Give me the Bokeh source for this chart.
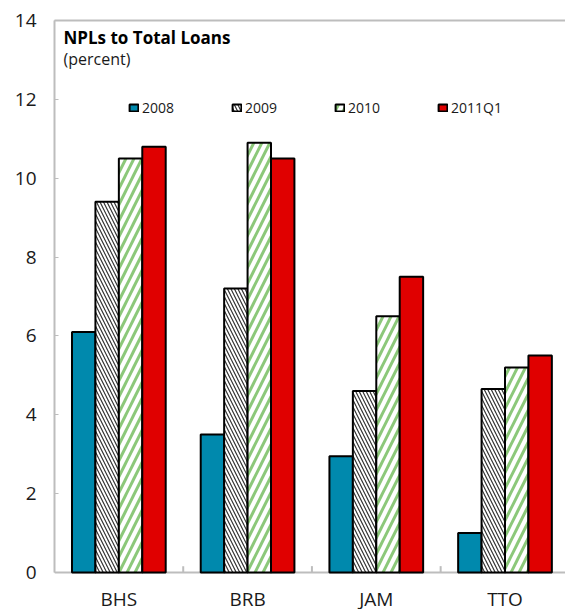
import numpy as np
from bokeh.plotting import figure
from bokeh.core.properties import value
from bokeh.models import (Range1d, FixedTicker, LinearAxis, Legend, LegendItem,
                          Label, LabelSet, Span, ColumnDataSource)
from bokeh.embed import file_html
from bokeh.resources import INLINE

# NPLs to total loans, percent
countries = ["BHS", "BRB", "JAM", "TTO"]
periods = ["2008", "2009", "2010", "2011Q1"]
npl_2008 = [6.1, 3.5, 2.95, 1.0]
npl_2009 = [9.4, 7.2, 4.6, 4.65]
npl_2010 = [10.5, 10.9, 6.5, 5.2]
npl_2011q1 = [10.8, 10.5, 7.5, 5.5]
y_ticks = [0, 2, 4, 6, 8, 10, 12, 14]

FONT = "Open Sans"
AXIS_GREY = "#bdbdbd"
TEXT = "#1a1a1a"

# the frame runs down to the page bottom so the country names sit inside it
p = figure(width=565, height=609, x_range=Range1d(0, 3.97),
           y_range=Range1d(-0.94, 14),
           toolbar_location=None, output_backend="svg",
           min_border_left=54, min_border_right=0, min_border_top=20,
           min_border_bottom=0)
p.outline_line_color = None
p.xgrid.visible = False
p.ygrid.visible = False
p.xaxis.visible = False

centers = [i + 0.5 for i in range(len(countries))]
bounds = [i for i in range(1, len(countries))]
bar_w = 0.182
offsets = [-1.5 * bar_w, -0.5 * bar_w, 0.5 * bar_w, 1.5 * bar_w]

styles = [
    dict(fill_color="#0089ad"),
    dict(fill_color="white", hatch_pattern="\\", hatch_color="#333333",
         hatch_scale=7, hatch_weight=1.2),
    dict(fill_color="white", hatch_pattern="/", hatch_color="#8cc87a",
         hatch_scale=16, hatch_weight=3),
    dict(fill_color="#e00000"),
]

renderers = []
for vals, off, st in zip([npl_2008, npl_2009, npl_2010, npl_2011q1], offsets, styles):
    src = ColumnDataSource(dict(x=[c + off for c in centers], top=vals))
    r = p.vbar(x="x", top="top", width=bar_w, source=src,
               line_color="black", line_width=2, **st)
    renderers.append(r)

# category axis: base line at zero, short marks between groups, names below
p.add_layout(Span(location=0, dimension="width", line_color=AXIS_GREY,
                  line_width=2, level="underlay"))
p.segment(x0=bounds, y0=[0] * len(bounds), x1=bounds, y1=[0.16] * len(bounds),
          line_color=AXIS_GREY, line_width=2)
names = ColumnDataSource(dict(x=centers, y=[0] * len(countries), text=countries))
p.add_layout(LabelSet(x="x", y="y", text="text", source=names, y_offset=-27,
                      text_align="center", text_baseline="middle",
                      text_font=value(FONT), text_font_size="19px",
                      text_color=TEXT))

ya = p.yaxis[0]
ya.bounds = (0, 14)
ya.ticker = FixedTicker(ticks=y_ticks)
ya.minor_tick_line_color = None
ya.major_tick_in = 4
ya.major_tick_out = 0
ya.major_tick_line_color = AXIS_GREY
ya.axis_line_color = AXIS_GREY
ya.axis_line_width = 2
ya.major_label_text_font = FONT
ya.major_label_text_font_size = "19px"
ya.major_label_text_color = TEXT
ya.major_label_standoff = 18

# top border of the frame
top = LinearAxis(ticker=FixedTicker(ticks=[]), major_tick_line_color=None,
                 minor_tick_line_color=None, axis_line_color=AXIS_GREY,
                 axis_line_width=2)
p.add_layout(top, "above")

p.add_layout(Label(x=0.07, y=13.57, text="NPLs to Total Loans", text_font=FONT,
                   text_font_style="bold", text_font_size="17px",
                   text_color="black", text_baseline="middle"))
p.add_layout(Label(x=0.07, y=13.03, text="(percent)", text_font=FONT,
                   text_font_size="16px", text_color=TEXT,
                   text_baseline="middle"))

legend = Legend(items=[LegendItem(label=lab, renderers=[r])
                       for lab, r in zip(periods, renderers)],
                orientation="horizontal", location=(74, 492),
                glyph_width=11, glyph_height=9, label_standoff=3, spacing=57,
                padding=0, margin=0, border_line_color=None,
                background_fill_alpha=0,
                label_text_font=FONT, label_text_font_size="14px",
                label_text_color=TEXT)
p.add_layout(legend)

open("out.html", "w").write(file_html(p, INLINE))
